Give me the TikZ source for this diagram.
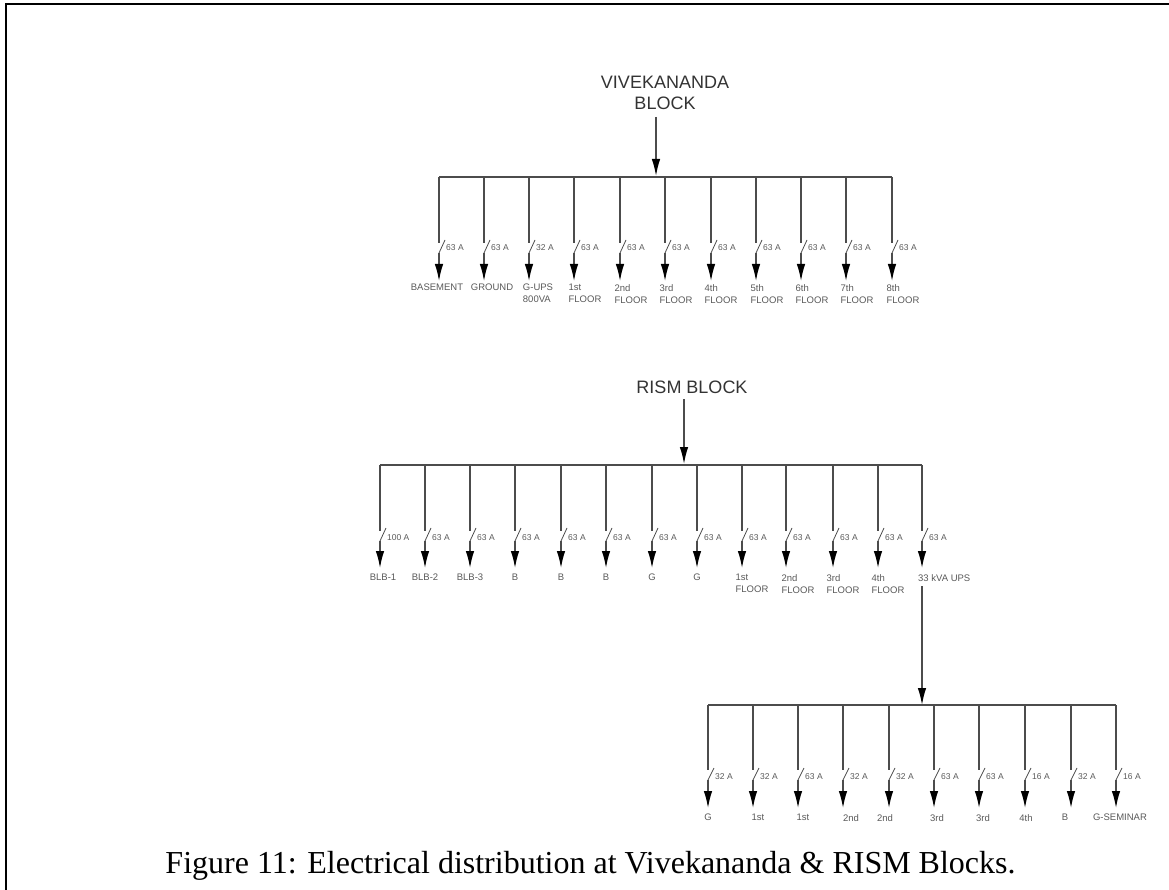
\documentclass[tikz,border=0pt]{standalone}
\usepackage{fontspec}
\setmainfont{Liberation Serif}
\setsansfont{Liberation Sans}
\usetikzlibrary{arrows.meta}
\definecolor{wirecol}{gray}{0.3}
\definecolor{txtcol}{gray}{0.35}
\tikzset{
  wire/.style={color=wirecol, line width=1.4pt},
  feed/.style={wire, -{Latex[length=17pt,width=8.5pt,color=black]}},
  amp/.style={anchor=west, inner sep=0pt, color=txtcol, font=\sffamily\fontsize{8.5}{10}\selectfont},
  load/.style={anchor=north, inner sep=0pt, align=left, color=txtcol, font=\sffamily\fontsize{9.5}{12}\selectfont},
  title/.style={inner sep=0pt, align=center, color=black!80, font=\sffamily\fontsize{18}{21}\selectfont}
}
\begin{document}
\begin{tikzpicture}[x=1pt,y=-1pt]
  \useasboundingbox (0,0) rectangle (1169,890);
  \coordinate (fa) at (5.5,890);
  \coordinate (fb) at (5.5,4);
  \coordinate (fc) at (1169,4);
  \draw[black, line width=2pt] (fa) -- (fb) -- (fc);
  % vivekananda block
  \node[title] (vtitle) at (665,92.5) {VIVEKANANDA\\BLOCK};
  \coordinate (vin) at (656,117);
  \coordinate (vbus) at (656,176);
  \draw[feed] (vin) -- (vbus);
  \coordinate (vl) at (439,177);
  \coordinate (vr) at (892,177);
  \draw[wire] (vl) -- (vr);
  \foreach \i/\x/\a/\l/\t in {1/439/63/437/BASEMENT,2/484/63/492/GROUND,3/529/32/538/{G-UPS\\800VA},4/574/63/585/{1st\\FLOOR},5/620/63/631/{2nd\\FLOOR},6/665/63/676/{3rd\\FLOOR},7/711/63/721/{4th\\FLOOR},8/756/63/767/{5th\\FLOOR},9/801/63/812/{6th\\FLOOR},10/846/63/857/{7th\\FLOOR},11/892/63/903/{8th\\FLOOR}}{
    \coordinate (v\i a) at (\x,177);
    \coordinate (v\i b) at (\x,243);
    \coordinate (v\i c) at (\x,253);
    \coordinate (v\i d) at (\x+6,240);
    \coordinate (v\i e) at (\x,281);
    \draw[wire] (v\i a) -- (v\i b);
    \draw[wire, line width=.8pt] (v\i c) -- (v\i d);
    \draw[feed] (v\i c) -- (v\i e);
    \node[amp] (v\i amp) at (\x+7,248) {\a\ A};
    \node[load] (v\i load) at (\l,284) {\t};
  }
  % rism block
  \node[title] (rtitle) at (692,387) {RISM BLOCK};
  \coordinate (rin) at (684,399);
  \coordinate (rbus) at (684,464);
  \draw[feed] (rin) -- (rbus);
  \coordinate (rl) at (380,465);
  \coordinate (rr) at (922,465);
  \draw[wire] (rl) -- (rr);
  \foreach \i/\x/\a/\l/\t in {1/380/100/383/BLB-1,2/425/63/425/BLB-2,3/470/63/470/BLB-3,4/515/63/515/B,5/561/63/561/B,6/606/63/606/B,7/652/63/652/G,8/697/63/697/G,9/742/63/752/{1st\\FLOOR},10/786/63/798/{2nd\\FLOOR},11/833/63/843/{3rd\\FLOOR},12/878/63/888/{4th\\FLOOR},13/922/63/922/{}}{
    \coordinate (r\i a) at (\x,465);
    \coordinate (r\i b) at (\x,531);
    \coordinate (r\i c) at (\x,541);
    \coordinate (r\i d) at (\x+6,528);
    \coordinate (r\i e) at (\x,568);
    \draw[wire] (r\i a) -- (r\i b);
    \draw[wire, line width=.8pt] (r\i c) -- (r\i d);
    \draw[feed] (r\i c) -- (r\i e);
    \node[amp] (r\i amp) at (\x+7,538) {\a\ A};
    \node[load] (r\i load) at (\l,574) {\t};
  }
  \node[load, anchor=north west] (upslabel) at (918,574) {33 kVA UPS};
  % ups branch
  \coordinate (uin) at (922,586);
  \coordinate (ubus) at (922,705);
  \draw[feed] (uin) -- (ubus);
  \coordinate (ul) at (708,705);
  \coordinate (ur) at (1116,705);
  \draw[wire] (ul) -- (ur);
  \foreach \i/\x/\a/\l/\t in {1/708/32/708/G,2/753/32/758/1st,3/798/63/803/1st,4/843/32/851/2nd,5/889/32/885/2nd,6/934/63/937/3rd,7/979/63/983/3rd,8/1025/16/1026/4th,9/1071/32/1065/B,10/1116/16/1116/{}}{
    \coordinate (u\i a) at (\x,705);
    \coordinate (u\i b) at (\x,770);
    \coordinate (u\i c) at (\x,780);
    \coordinate (u\i d) at (\x+6,768);
    \coordinate (u\i e) at (\x,808);
    \draw[wire] (u\i a) -- (u\i b);
    \draw[wire, line width=.8pt] (u\i c) -- (u\i d);
    \draw[feed] (u\i c) -- (u\i e);
    \node[amp] (u\i amp) at (\x+7,777) {\a\ A};
    \node[load] (u\i load) at (\l,814) {\t};
  }
  \node[load] (semlabel) at (1120,814) {G-SEMINAR};
  \node[inner sep=0pt, anchor=base, font=\fontsize{32}{36}\selectfont] (caption) at (590.5,873) {Figure 11: Electrical distribution at Vivekananda \& RISM Blocks.};
\end{tikzpicture}
\end{document}
